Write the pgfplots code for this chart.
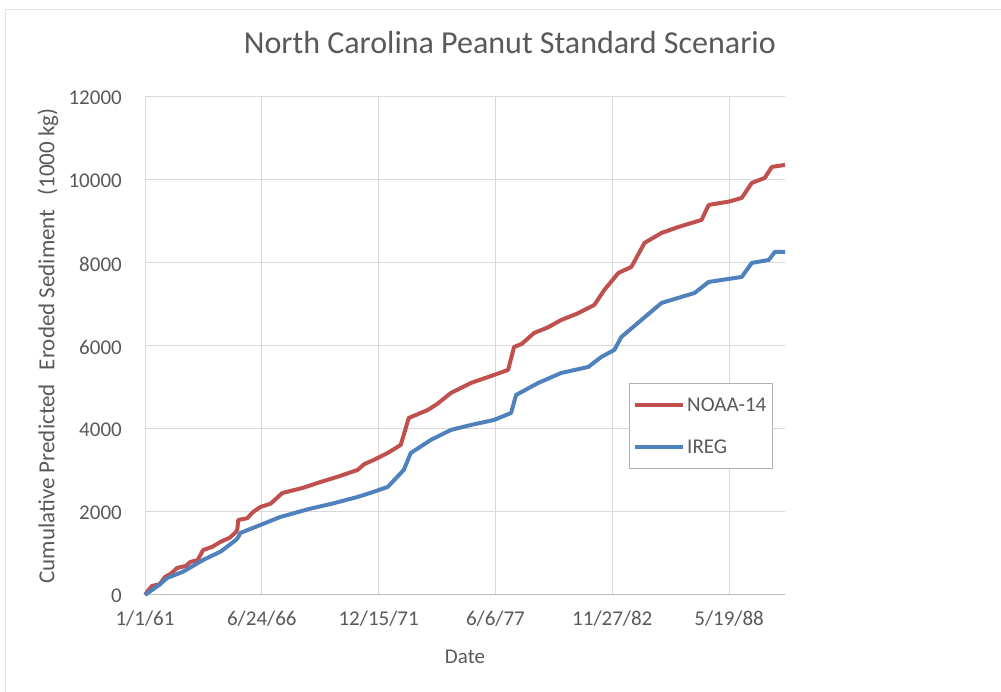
\documentclass[border=0pt]{standalone}
\usepackage{pgfplots}
\pgfplotsset{compat=1.18}
\usepackage{fontspec}
\setmainfont{Carlito}
\definecolor{txtgray}{HTML}{595959}
\definecolor{gridgray}{HTML}{D9D9D9}
\definecolor{axgray}{HTML}{BFBFBF}
\definecolor{noaared}{HTML}{C0504D}
\definecolor{iregblue}{HTML}{4F81BD}
\begin{document}
\begin{tikzpicture}
\useasboundingbox (0pt,0pt) rectangle (1001pt,692pt);
\draw[gray!22, line width=1.5pt] (5.5pt,0pt) -- (5.5pt,682.5pt) -- (1001pt,682.5pt);
\begin{axis}[
  at={(145pt,97pt)}, anchor=south west,
  scale only axis, width=640pt, height=498pt,
  xmin=0, xmax=10957, ymin=0, ymax=12000,
  xtick={0,2000,4000,6000,8000,10000},
  xticklabels={1/1/61,6/24/66,12/15/71,6/6/77,11/27/82,5/19/88},
  ytick={0,2000,4000,6000,8000,10000,12000},
  yticklabels={0,2000,4000,6000,8000,10000,12000},
  scaled ticks=false,
  major tick length=0pt,
  xmajorgrids, ymajorgrids,
  major grid style={gridgray, line width=1pt},
  axis x line*=bottom, axis y line*=left,
  x axis line style={axgray, line width=1pt, -},
  y axis line style={draw=none},
  tick label style={font=\fontsize{21}{24}\selectfont, text=txtgray},
  yticklabel style={anchor=east, inner sep=0pt, xshift=-23pt, yshift=-1pt},
  xticklabel style={anchor=base, inner sep=0pt, yshift=-31pt},
  title={North Carolina Peanut Standard Scenario},
  title style={at={(axis description cs:0.570,1.098)}, anchor=center, font=\fontsize{32}{36}\selectfont, text=txtgray},
  xlabel={Date},
  xlabel style={at={(axis description cs:0.5,-0.1245)}, anchor=center, font=\fontsize{21}{24}\selectfont, text=txtgray},
  ylabel={Cumulative Predicted\hspace{14pt}Eroded Sediment\hspace{14pt}(1000 kg)},
  ylabel style={at={(axis description cs:-0.1516,0.5)}, rotate=0, anchor=center, font=\fontsize{23}{26}\selectfont, text=txtgray},
  clip=false,
  legend style={at={(axis description cs:0.756,0.4257)}, anchor=north west,
    draw=gray!60, line width=0.8pt, fill=white,
    font=\fontsize{21}{24}\selectfont, text=txtgray,
    inner xsep=4pt, inner ysep=12pt, row sep=23pt,
    cells={anchor=west}, nodes={inner sep=2pt}},
  legend image code/.code={\draw[#1] (0pt,0pt) -- (48pt,0pt);},
]
\addplot[noaared, line width=4pt, line join=round] coordinates {
(0,0) (60,120) (120,217) (250,260) (343,434) (450,520) (549,651) (700,700) (773,795)
(900,840) (996,1085) (1150,1160) (1288,1277) (1450,1380)
(1560,1520) (1580,1580) (1597,1808) (1750,1850) (1850,2000) (1975,2121) (2150,2200) (2352,2458)
(2700,2580) (3005,2723) (3300,2850)
(3640,3013) (3750,3150) (3915,3254) (4155,3422) (4378,3615) (4516,4266) (4842,4459)
(5000,4600) (5237,4868) (5580,5109) (5975,5302) (6216,5423) (6319,5977) (6450,6050) (6662,6314)
(6900,6450) (7126,6628) (7400,6780) (7692,6989) (7864,7351) (8104,7760) (8327,7905) (8551,8483)
(8843,8724) (9135,8869) (9529,9038) (9650,9399) (10000,9480) (10216,9568) (10388,9929)
(10611,10050) (10731,10315) (10957,10363)
};
\addlegendentry{NOAA-14}
\addplot[iregblue, line width=4pt, line join=round] coordinates {
(0,0) (120,120) (250,250) (378,410) (650,560) (996,844) (1300,1050) (1560,1330) (1597,1398) (1631,1494)
(1975,1687) (2318,1880) (2800,2070) (3200,2200) (3640,2362) (3900,2480) (4155,2603) (4430,3013) (4550,3422)
(4893,3736) (5237,3977) (5580,4097) (5975,4218) (6267,4386) (6353,4820)
(6731,5109) (7126,5350) (7589,5495) (7812,5736) (8035,5905) (8156,6218)
(8499,6628) (8843,7037) (9409,7278) (9650,7543) (10216,7664) (10388,8001)
(10680,8074) (10783,8267) (10957,8267)
};
\addlegendentry{IREG}
\end{axis}
\end{tikzpicture}
\end{document}
